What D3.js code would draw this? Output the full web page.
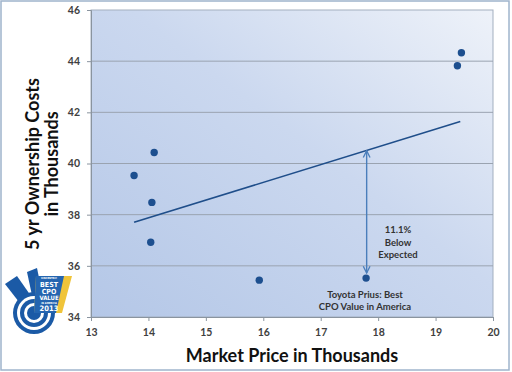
<!DOCTYPE html>
<html>
<head>
<meta charset="utf-8">
<script src="https://cdn.jsdelivr.net/npm/d3@7"></script>
<style>
  body { margin: 0; background: #fff; }
  text { font-family: Lato, "Open Sans", sans-serif; }
</style>
</head>
<body>
<div id="chart"></div>
<script>
const width = 512;
const height = 372;

// market price (thousands) vs 5 yr ownership cost (thousands)
const marketPrice = [13.75, 14.1, 14.06, 14.04, 15.93, 17.79, 19.38, 19.45];
const ownershipCost = [39.53, 40.43, 38.48, 36.92, 35.44, 35.52, 43.82, 44.33];
const trendX = [13.75, 19.43];
const trendY = [37.7, 41.64];
const xTicks = [13, 14, 15, 16, 17, 18, 19, 20];
const yTicks = [34, 36, 38, 40, 42, 44, 46];
const prius = { x: 17.8, top: 40.5, bottom: 35.72 };
const noteLines = ["11.1%", "Below", "Expected"];
const priusLines = ["Toyota Prius: Best", "CPO Value in America"];

const margin = { top: 10, right: 19, bottom: 55, left: 91 };

const svg = d3.select("#chart").append("svg")
  .attr("width", width)
  .attr("height", height);

const defs = svg.append("defs");
const grad = defs.append("linearGradient")
  .attr("id", "bg")
  .attr("x1", 0).attr("y1", 1).attr("x2", 1).attr("y2", 0);
grad.append("stop").attr("offset", "0%").attr("stop-color", "#b4c7e7");
grad.append("stop").attr("offset", "55%").attr("stop-color", "#cbd8ef");
grad.append("stop").attr("offset", "100%").attr("stop-color", "#eef2f9");

defs.append("marker")
  .attr("id", "head")
  .attr("viewBox", "0 0 10 10")
  .attr("refX", 9).attr("refY", 5)
  .attr("markerWidth", 6).attr("markerHeight", 6)
  .attr("orient", "auto-start-reverse")
  .append("path")
  .attr("d", "M1,1 L9,5 L1,9")
  .attr("fill", "none")
  .attr("stroke", "#4a7ebb")
  .attr("stroke-width", 1.6);

// outer frame
svg.append("rect")
  .attr("x", 1).attr("y", 1)
  .attr("width", 508).attr("height", 369)
  .attr("fill", "#fff")
  .attr("stroke", "#9fb4cc")
  .attr("stroke-width", 1.5);

const x = d3.scaleLinear().domain([13, 20]).range([margin.left, width - margin.right]);
const y = d3.scaleLinear().domain([34, 46]).range([height - margin.bottom, margin.top]);

const plotW = x(20) - x(13);
const plotH = y(34) - y(46);

svg.append("rect")
  .attr("x", x(13)).attr("y", y(46))
  .attr("width", plotW).attr("height", plotH)
  .attr("fill", "url(#bg)")
  .attr("stroke", "#a3afbf")
  .attr("stroke-width", 1);

// grid
svg.append("g")
  .selectAll("line")
  .data(yTicks.filter(d => d > 34 && d < 46))
  .join("line")
  .attr("x1", x(13)).attr("x2", x(20))
  .attr("y1", d => y(d)).attr("y2", d => y(d))
  .attr("stroke", "#9aa3b0")
  .attr("stroke-width", 1);

const xAxis = svg.append("g")
  .attr("transform", `translate(0,${y(34)})`)
  .call(d3.axisBottom(x).tickValues(xTicks).tickSize(4).tickPadding(8).tickFormat(d3.format("d")));
const yAxis = svg.append("g")
  .attr("transform", `translate(${x(13)},0)`)
  .call(d3.axisLeft(y).tickValues(yTicks).tickSize(4).tickPadding(7).tickFormat(d3.format("d")));

[xAxis, yAxis].forEach(g => {
  g.select(".domain").attr("stroke", "#8a949f");
  g.selectAll(".tick line").attr("stroke", "#8a949f");
  g.selectAll(".tick text")
    .attr("fill", "#404040")
    .style("font-size", "10.5px")
    .style("font-weight", "bold");
});

// trend line
svg.append("line")
  .attr("x1", x(trendX[0])).attr("y1", y(trendY[0]))
  .attr("x2", x(trendX[1])).attr("y2", y(trendY[1]))
  .attr("stroke", "#1f4e8a")
  .attr("stroke-width", 1.6);

// arrow between expected and actual
svg.append("line")
  .attr("x1", x(prius.x)).attr("y1", y(prius.top))
  .attr("x2", x(prius.x)).attr("y2", y(prius.bottom))
  .attr("stroke", "#4a7ebb")
  .attr("stroke-width", 1.4)
  .attr("marker-start", "url(#head)")
  .attr("marker-end", "url(#head)");

// points
svg.append("g")
  .selectAll("circle")
  .data(marketPrice.map((d, i) => [d, ownershipCost[i]]))
  .join("circle")
  .attr("cx", d => x(d[0]))
  .attr("cy", d => y(d[1]))
  .attr("r", 3.7)
  .attr("fill", "#1d4f8f");

// annotations
svg.append("text")
  .attr("x", 398).attr("y", 233)
  .attr("text-anchor", "middle")
  .attr("fill", "#333")
  .style("font-size", "9.5px")
  .style("font-weight", "bold")
  .selectAll("tspan")
  .data(noteLines)
  .join("tspan")
  .attr("x", 398)
  .attr("dy", (d, i) => i ? 12.5 : 0)
  .text(d => d);

svg.append("text")
  .attr("x", 365).attr("y", 298)
  .attr("text-anchor", "middle")
  .attr("fill", "#333")
  .style("font-size", "9.5px")
  .style("font-weight", "bold")
  .selectAll("tspan")
  .data(priusLines)
  .join("tspan")
  .attr("x", 365)
  .attr("dy", (d, i) => i ? 12 : 0)
  .text(d => d);

// axis titles
svg.append("text")
  .attr("x", 292).attr("y", 362)
  .attr("text-anchor", "middle")
  .attr("fill", "#111")
  .style("font-size", "18px")
  .style("font-weight", "bold")
  .text("Market Price in Thousands");

const yTitle = svg.append("text")
  .attr("transform", "translate(39,164) rotate(-90)")
  .attr("text-anchor", "middle")
  .attr("fill", "#111")
  .style("font-size", "18px")
  .style("font-weight", "bold");
yTitle.append("tspan").attr("x", 0).attr("dy", 0).text("5 yr Ownership Costs");
yTitle.append("tspan").attr("x", 0).attr("dy", 19).text("in Thousands");

// badge
const logo = svg.append("g").attr("transform", "translate(0,262)");
logo.append("path")
  .attr("d", "M5,22 L17,14 L38,44 L33,58 Z")
  .attr("fill", "#1b5aa6");
logo.append("path")
  .attr("d", "M27,10 L37,6 L44,40 L36,52 Z")
  .attr("fill", "#1b5aa6");
[[21, "#1b5aa6"], [17, "#fff"], [14, "#1b5aa6"], [10, "#fff"], [7, "#1b5aa6"]].forEach(([r, c]) => {
  logo.append("circle").attr("cx", 34).attr("cy", 51).attr("r", r).attr("fill", c);
});
logo.append("path")
  .attr("d", "M36,14 L72,14 L62,51 L34,51 Z")
  .attr("fill", "#f0c43a");
logo.append("path")
  .attr("d", "M36,14 L64,14 L56,51 L34,51 Z")
  .attr("fill", "#2465b0");
const badgeText = [["VINCENTRIC", 2.6, 17], ["BEST", 7, 24.5], ["CPO", 7, 31.5], ["VALUE", 6, 38], ["IN AMERICA", 2.6, 41.5], ["2013", 7.5, 49]];
logo.append("g")
  .selectAll("text")
  .data(badgeText)
  .join("text")
  .attr("x", 49)
  .attr("y", d => d[2])
  .attr("text-anchor", "middle")
  .attr("fill", "#fff")
  .style("font-family", "'DejaVu Sans Condensed', sans-serif")
  .style("font-weight", "bold")
  .style("font-size", d => d[1] + "px")
  .text(d => d[0]);
</script>
</body>
</html>
